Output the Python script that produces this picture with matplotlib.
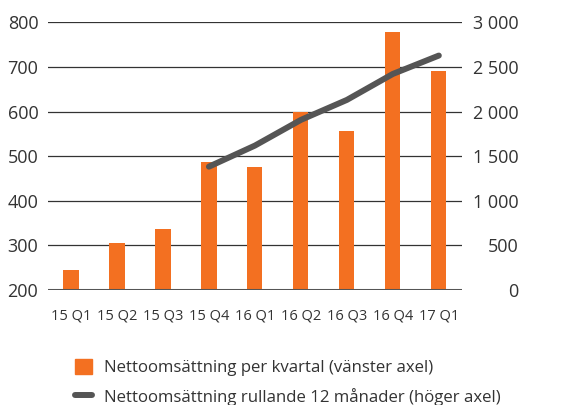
import matplotlib
matplotlib.use("Agg")
import matplotlib.pyplot as plt
from matplotlib.patches import Patch
from matplotlib.lines import Line2D
from matplotlib.ticker import FuncFormatter

plt.rcParams['font.family'] = ['Open Sans', 'DejaVu Sans']

quarters = ["15 Q1", "15 Q2", "15 Q3", "15 Q4", "16 Q1", "16 Q2", "16 Q3", "16 Q4", "17 Q1"]
per_quarter = [245, 305, 336, 487, 476, 600, 556, 778, 691]
rolling_quarters = ["15 Q4", "16 Q1", "16 Q2", "16 Q3", "16 Q4", "17 Q1"]
rolling_12m = [1382, 1618, 1906, 2130, 2421, 2627]

orange = "#F37021"
grey_line = "#555555"
text_col = "#333333"

fig = plt.figure(figsize=(5.78, 4.05), dpi=100)
ax = fig.add_axes([0.083, 0.284, 0.716, 0.661])
ax2 = ax.twinx()

x = list(range(len(quarters)))
ax.bar(x, per_quarter, width=0.33, color=orange, zorder=3)
ax.set_ylim(200, 800)
ax.set_xlim(-0.5, 8.5)
ax.set_yticks([200, 300, 400, 500, 600, 700, 800])
for y in [300, 400, 500, 600, 700, 800]:
    ax.axhline(y, color="#333333", lw=0.9, zorder=1)
ax.axhline(200, color=grey_line, lw=2.2, zorder=4)

xr = [quarters.index(q) for q in rolling_quarters]
ax2.plot(xr, rolling_12m, color=grey_line, lw=4.3, solid_capstyle="round", solid_joinstyle="round", zorder=5)
ax2.set_ylim(0, 3000)
ax2.set_yticks([0, 500, 1000, 1500, 2000, 2500, 3000])
ax2.yaxis.set_major_formatter(FuncFormatter(lambda v, p: f"{int(v):,}".replace(",", " ")))

ax.set_xticks(x)
ax.set_xticklabels(quarters)
for a in (ax, ax2):
    for s in a.spines.values():
        s.set_visible(False)
    a.tick_params(length=0, colors=text_col)
ax.tick_params(axis="y", labelsize=13, pad=7)
ax2.tick_params(axis="y", labelsize=13)
ax.tick_params(axis="x", labelsize=10.5, pad=13)
for lbl in ax2.get_yticklabels():
    lbl.set_horizontalalignment("right")
ax2.tick_params(axis="y", pad=41)

handles = [Patch(color=orange), Line2D([0], [0], color=grey_line, lw=4.3, solid_capstyle="round")]
labels = ["Nettoomsättning per kvartal (vänster axel)",
          "Nettoomsättning rullande 12 månader (höger axel)"]
fig.legend(handles, labels, loc="upper left", bbox_to_anchor=(0.115, 0.135), frameon=False,
           fontsize=12.1, handlelength=1.0, handleheight=1.0, labelcolor=text_col,
           labelspacing=0.7, handletextpad=0.75, borderpad=0)

fig.savefig("out.png", dpi=100)
